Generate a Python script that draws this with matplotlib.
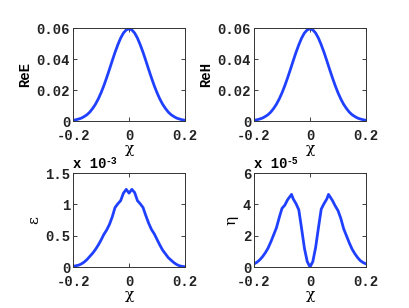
import matplotlib
matplotlib.use("Agg")
import matplotlib.pyplot as plt
import numpy as np

# chi grid used for the Gaussian-like fields and epsilon
chi = np.round(np.arange(-0.20, 0.2001, 0.01), 2)

re_e = [0.0005, 0.0008, 0.0013, 0.0019, 0.0029, 0.0041, 0.0058, 0.0081, 0.0108, 0.0142,
        0.0182, 0.0228, 0.0279, 0.0333, 0.0389, 0.0443, 0.0492, 0.0535, 0.0568, 0.0588,
        0.0595,
        0.0588, 0.0568, 0.0535, 0.0492, 0.0443, 0.0389, 0.0333, 0.0279, 0.0228, 0.0182,
        0.0142, 0.0108, 0.0081, 0.0058, 0.0041, 0.0029, 0.0019, 0.0013, 0.0008, 0.0005]
re_h = list(re_e)

# epsilon in units of 1e-3
eps = [0.01, 0.02, 0.03, 0.05, 0.08, 0.12, 0.17, 0.22, 0.28, 0.35,
       0.43, 0.52, 0.59, 0.68, 0.80, 0.95, 1.01, 1.06, 1.18, 1.24,
       1.18,
       1.24, 1.19, 1.06, 1.01, 0.95, 0.82, 0.70, 0.60, 0.53, 0.44,
       0.35, 0.27, 0.21, 0.15, 0.11, 0.07, 0.04, 0.02, 0.01, 0.005]

# eta in units of 1e-5
chi_eta = [-0.20, -0.19, -0.18, -0.17, -0.16, -0.15, -0.14, -0.13, -0.12, -0.11,
           -0.10, -0.09, -0.08, -0.066, -0.06, -0.05, -0.04, -0.03, -0.02, -0.01,
           0.0,
           0.01, 0.02, 0.03, 0.04, 0.05, 0.06, 0.066, 0.08, 0.09, 0.10,
           0.11, 0.12, 0.13, 0.14, 0.15, 0.16, 0.17, 0.18, 0.19, 0.20]
eta = [0.20, 0.30, 0.45, 0.65, 0.90, 1.20, 1.60, 2.05, 2.50, 3.15,
       3.75, 3.95, 4.30, 4.64, 4.35, 4.05, 3.65, 2.45, 1.20, 0.35,
       0.0,
       0.35, 1.25, 2.50, 3.70, 4.05, 4.35, 4.64, 4.25, 3.90, 3.60,
       3.10, 2.45, 2.00, 1.55, 1.15, 0.85, 0.60, 0.40, 0.28, 0.20]

xticks = [-0.2, 0, 0.2]
xticklabels = ["-0.2", "0", "0.2"]

mono = dict(family="Liberation Mono", weight="bold", size=10)
serif = dict(family="DejaVu Serif", size=11)
blue = "#2040ff"

fig = plt.figure(figsize=(4.09, 3.08), dpi=100)

panels = [
    ([0.1785, 0.607, 0.274, 0.302], chi, re_e, [0, 0.02, 0.04, 0.06],
     ["0", "0.02", "0.04", "0.06"], 0.06, "ReE", mono, None),
    ([0.621, 0.607, 0.274, 0.302], chi, re_h, [0, 0.02, 0.04, 0.06],
     ["0", "0.02", "0.04", "0.06"], 0.06, "ReH", mono, None),
    ([0.1785, 0.133, 0.274, 0.305], chi, eps, [0, 0.5, 1, 1.5],
     ["0", "0.5", "1", "1.5"], 1.5, "\u03b5", serif, "-3"),
    ([0.621, 0.133, 0.274, 0.305], chi_eta, eta, [0, 2, 4, 6],
     ["0", "2", "4", "6"], 6, "\u03b7", serif, "-5"),
]

for rect, x, y, yt, ytl, ymax, ylab, ylab_font, expo in panels:
    ax = fig.add_axes(rect)
    ax.plot(x, y, color=blue, lw=2)
    ax.set_xlim(-0.2, 0.2)
    ax.set_ylim(0, ymax)
    ax.set_xticks(xticks)
    ax.set_xticklabels(xticklabels, fontdict=mono)
    ax.set_yticks(yt)
    ax.set_yticklabels(ytl, fontdict=mono)
    ax.tick_params(direction="in", top=True, right=True, length=3, width=0.6,
                   colors="#222222")
    ax.tick_params(axis="x", pad=6)
    ax.tick_params(axis="y", pad=2)
    for s in ax.spines.values():
        s.set_linewidth(0.7)
        s.set_color("#333333")
    ax.set_xlabel("\u03c7", fontdict=serif, labelpad=-1)
    ax.set_ylabel(ylab, fontdict=ylab_font, labelpad=3)
    if expo:
        ax.text(0.0, 1.02, "x 10", transform=ax.transAxes, ha="left", va="bottom",
                fontdict=mono)
        ax.text(0.29, 1.075, expo, transform=ax.transAxes, ha="left", va="bottom",
                family="Liberation Mono", weight="bold", size=7)

fig.savefig("out.png", dpi=100)
